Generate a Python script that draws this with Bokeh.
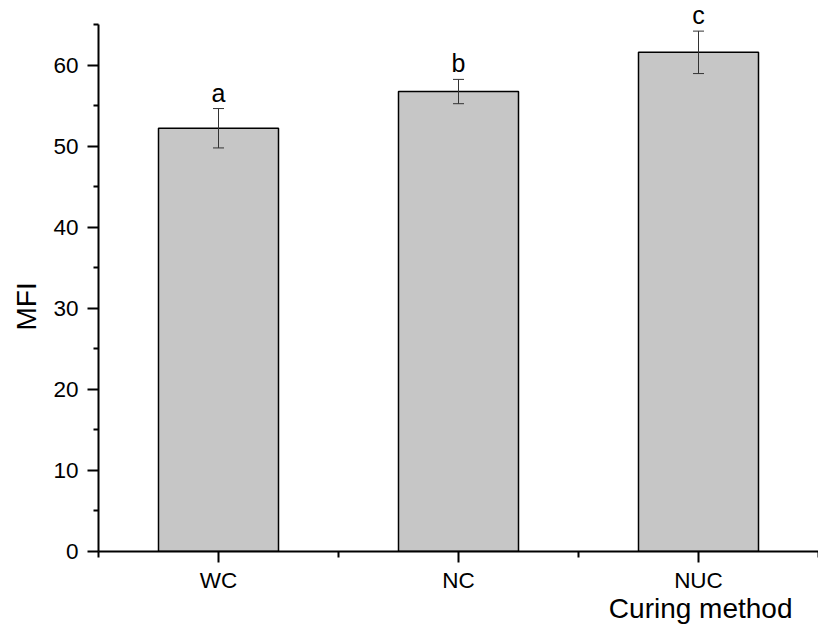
from bokeh.plotting import figure
from bokeh.models import (ColumnDataSource, FixedTicker, Range1d, Whisker, TeeHead, Title)
from bokeh.core.properties import value
from bokeh.embed import file_html
from bokeh.resources import INLINE

# ---- data ----
categories = ["WC", "NC", "NUC"]
mfi_mean = [52.25, 56.78, 61.62]
mfi_sd = [2.43, 1.50, 2.62]
letters = ["a", "b", "c"]
y_ticks = [0, 10, 20, 30, 40, 50, 60]
y_minor = [5, 15, 25, 35, 45, 55, 65]

xs = [i + 1 for i in range(len(categories))]
upper = [m + s for m, s in zip(mfi_mean, mfi_sd)]
lower = [m - s for m, s in zip(mfi_mean, mfi_sd)]
src = ColumnDataSource(dict(x=xs, top=mfi_mean, upper=upper, lower=lower, lab=letters))

FONT = "Liberation Sans"

p = figure(width=818, height=629, output_backend="svg", toolbar_location=None,
           x_range=Range1d(0.5, 3.5), y_range=Range1d(0, 68.02),
           min_border_left=98, min_border_right=0, min_border_top=0, min_border_bottom=78)
p.outline_line_color = None
p.grid.visible = False
p.background_fill_color = "white"

p.vbar(x="x", top="top", width=0.5, source=src, fill_color="#c6c6c6",
       line_color="black", line_width=1.5)

w = Whisker(source=src, base="x", upper="upper", lower="lower",
            line_color="#333333", line_width=1, level="overlay",
            upper_head=TeeHead(size=11, line_color="#333333", line_width=1),
            lower_head=TeeHead(size=11, line_color="#333333", line_width=1))
p.add_layout(w)

p.text(x="x", y="upper", text="lab", source=src, y_offset=-2,
       text_align="center", text_baseline="bottom",
       text_font=value(FONT), text_font_size="25px", text_color="black")

# y axis
ya = p.yaxis[0]
ya.ticker = FixedTicker(ticks=y_ticks, minor_ticks=y_minor)
ya.bounds = (0, 65)
ya.axis_line_width = 2
ya.major_tick_line_width = 2
ya.minor_tick_line_width = 2
ya.major_tick_out = 11
ya.major_tick_in = 0
ya.minor_tick_out = 5
ya.minor_tick_in = 0
ya.major_label_standoff = 9
ya.major_label_text_font = FONT
ya.major_label_text_font_size = "22.5px"
ya.major_label_text_color = "black"

# x axis
xa = p.xaxis[0]
xa.ticker = FixedTicker(ticks=xs, minor_ticks=[0.5, 1.5, 2.5, 3.5])
xa.major_label_overrides = {x: c for x, c in zip(xs, categories)}
xa.axis_line_width = 2
xa.major_tick_line_width = 2
xa.minor_tick_line_width = 2
xa.major_tick_out = 11
xa.major_tick_in = 0
xa.minor_tick_out = 6
xa.minor_tick_in = 0
xa.major_label_standoff = 5
xa.major_label_text_font = FONT
xa.major_label_text_font_size = "22.5px"
xa.major_label_text_color = "black"

p.add_layout(Title(text="Curing method", align="right", offset=26,
                   text_font=FONT, text_font_size="28px", text_font_style="normal",
                   text_color="black", standoff=-9), "below")
p.add_layout(Title(text="MFI", align="left", offset=221,
                   text_font=FONT, text_font_size="28px", text_font_style="normal",
                   text_color="black", standoff=17), "left")

open("out.html", "w").write(file_html(p, INLINE))
